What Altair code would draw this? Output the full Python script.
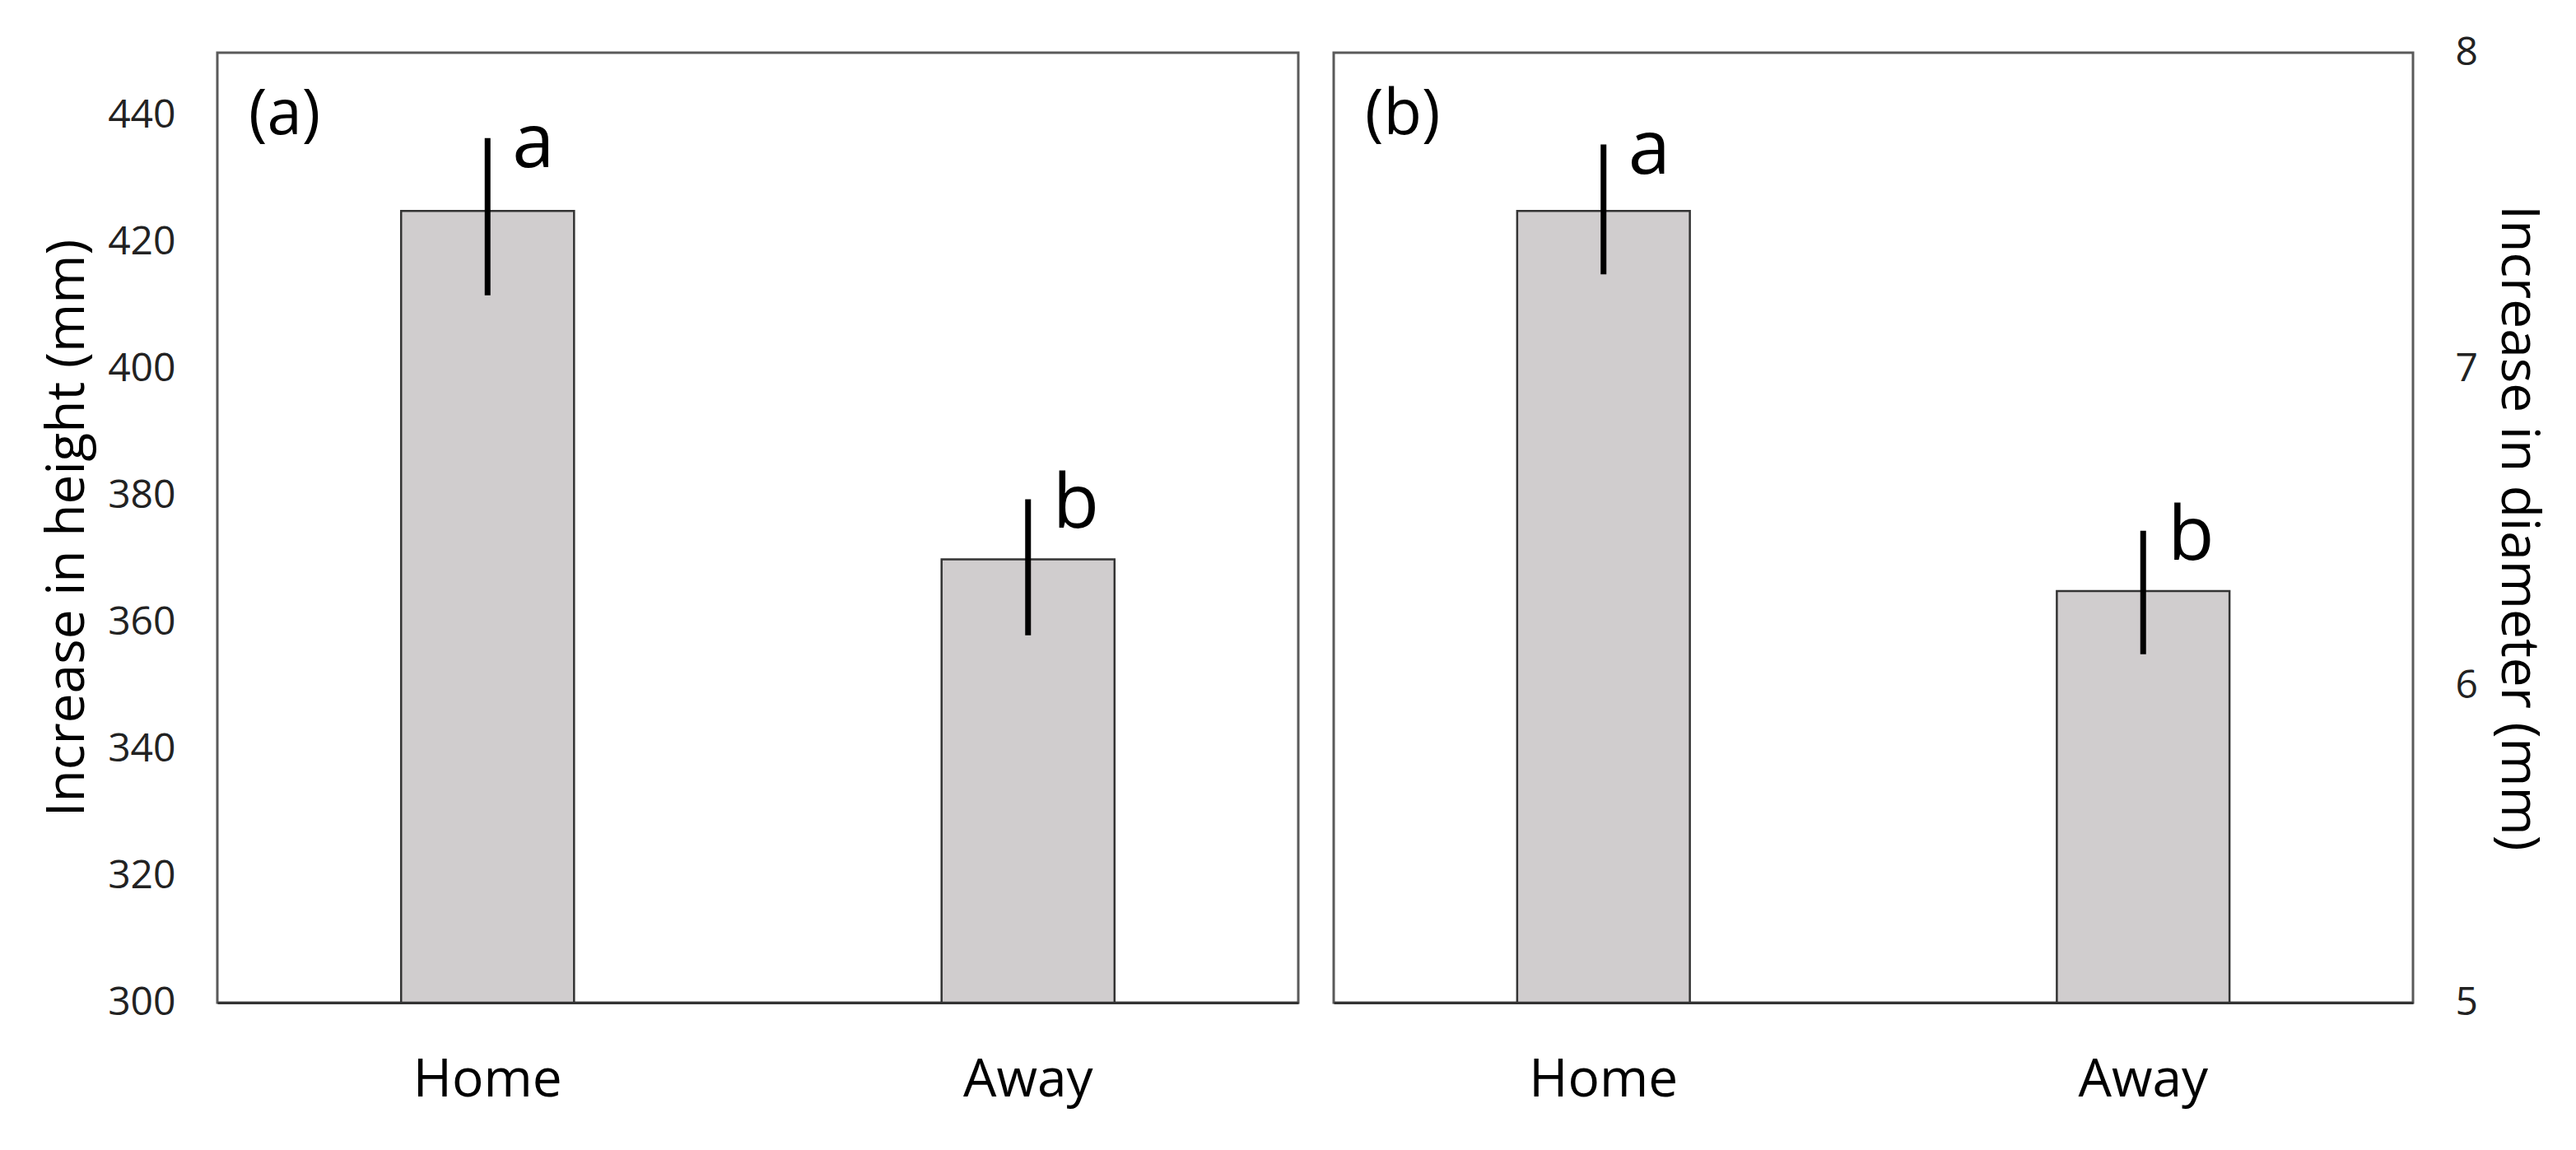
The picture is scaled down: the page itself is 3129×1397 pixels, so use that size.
import altair as alt
import pandas as pd

groups = ["Home", "Away"]
letters = ["a", "b"]
tags = ["(a)", "(b)"]

height_mean = [425.0, 370.0]
height_low = [411.7, 358.0]
height_high = [436.5, 379.5]

diam_mean = [7.50, 6.30]
diam_low = [7.30, 6.10]
diam_high = [7.71, 6.49]

height_ticks = [300, 320, 340, 360, 380, 400, 420, 440]
diam_ticks = [5, 6, 7, 8]

FONT = "Open Sans"


def panel(mean, low, high, ymin, ymax, ticks, title, orient, tag, title_x, title_angle, width):
    df = pd.DataFrame({"group": groups, "mean": mean, "low": low, "high": high, "letter": letters})
    base = alt.Chart(df)
    yscale = alt.Scale(domain=[ymin, ymax], nice=False, zero=False)
    xscale = alt.Scale(domain=groups, paddingInner=0.68, paddingOuter=0.34)
    x_axis = alt.Axis(title=None, labelAngle=0, labelFontSize=64, labelColor="#000000",
                      labelLimit=0, ticks=False, domain=True, domainColor="#333333", domainWidth=3,
                      labelPadding=62, labelBaseline="top")
    y_axis = alt.Axis(orient=orient, values=ticks, grid=False, ticks=False, domain=False,
                      labelFontSize=48, labelColor="#222222", labelPadding=51,
                      title=title, titleFontSize=64, titleFontWeight="normal", titleColor="#000000",
                      titleX=title_x, titleAngle=title_angle, titleBaseline="alphabetic",
                      titleLimit=0)
    X = alt.X("group:N", scale=xscale, axis=x_axis, sort=groups)

    bars = base.mark_bar(fill="#d0cdce", stroke="#333333", strokeWidth=2.5).encode(
        x=X,
        y=alt.Y("mean:Q", scale=yscale, axis=y_axis, title=title),
        y2=alt.datum(ymin),
    )
    errs = base.mark_rule(color="#000000", strokeWidth=7).encode(
        x=X,
        y=alt.Y("low:Q", scale=yscale, axis=y_axis, title=title),
        y2="high:Q",
    )
    lets = base.mark_text(align="left", baseline="alphabetic", dx=30, dy=35,
                          fontSize=92, font=FONT, color="#000000").encode(
        x=X,
        y=alt.Y("high:Q", scale=yscale, axis=y_axis, title=title),
        text="letter:N",
    )
    tagc = alt.Chart(pd.DataFrame({"tag": [tag]})).mark_text(
        align="left", baseline="alphabetic", fontSize=76, font=FONT, color="#000000"
    ).encode(x=alt.value(38), y=alt.value(99), text="tag:N")

    return alt.layer(bars, errs, lets, tagc).properties(width=width, height=1154)


pa = panel(height_mean, height_low, height_high, 300, 450, height_ticks,
           "Increase in height (mm)", "left", tags[0], -163, -90, 1313)
pb = panel(diam_mean, diam_low, diam_high, 5, 8, diam_ticks,
           "Increase in diameter (mm)", "right", tags[1], 107, 90, 1311)

chart = alt.hconcat(pa, pb, spacing=39).resolve_scale(
    x="independent", y="independent"
).properties(
    padding={"left": 40, "top": 30, "right": 20, "bottom": 5}
).configure(font=FONT).configure_view(
    stroke="#5a5a5a", strokeWidth=3
).configure_axis(labelFont=FONT, titleFont=FONT)

chart.save("out.html", embed_options={"renderer": "svg", "actions": False})
